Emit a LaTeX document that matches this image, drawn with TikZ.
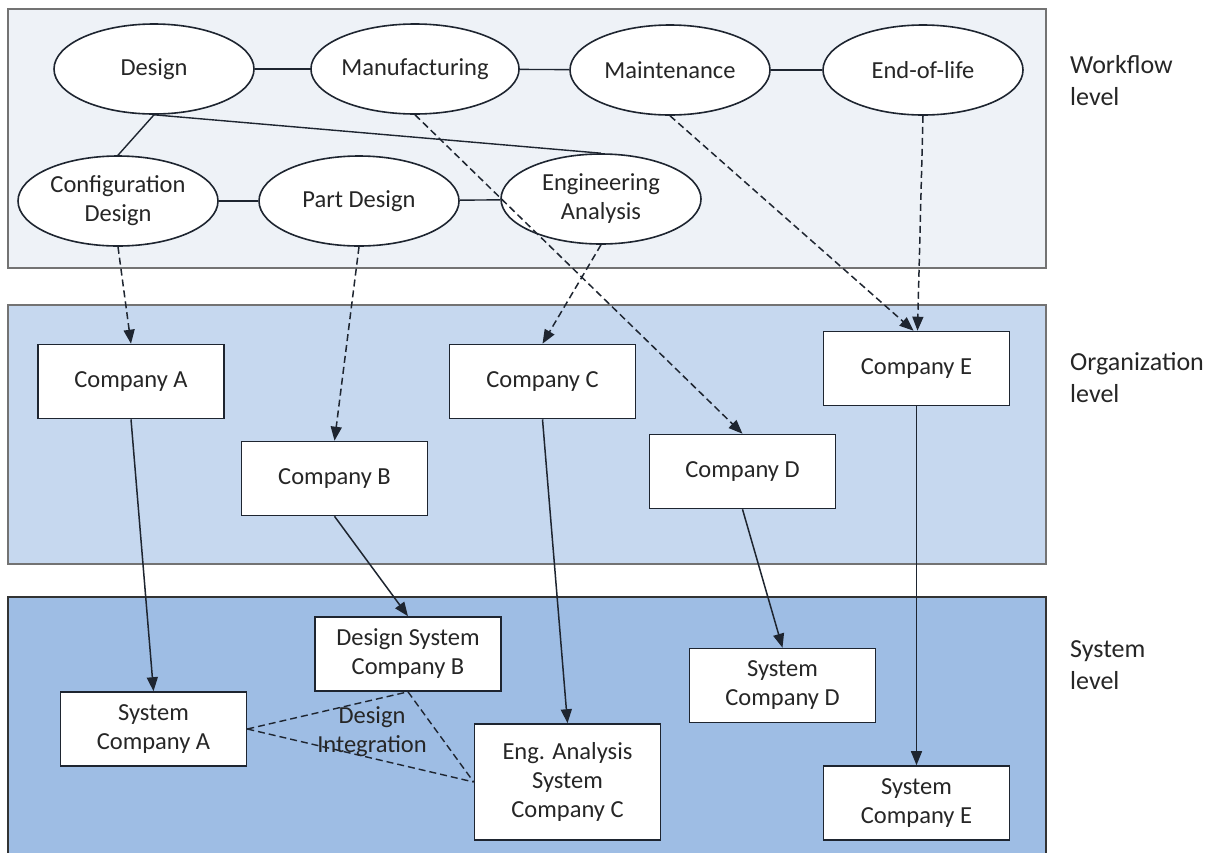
\documentclass[tikz,border=0pt]{standalone}
\usepackage{fontspec}
\setmainfont{Carlito}
\usetikzlibrary{arrows.meta,shapes.geometric}

\definecolor{txt}{HTML}{262626}
\definecolor{edge}{HTML}{1E2530}
\definecolor{wfFill}{HTML}{EEF2F7}
\definecolor{orgFill}{HTML}{C6D8EF}
\definecolor{sysFill}{HTML}{9EBDE4}

\tikzset{
  lbl/.style={text=txt, font=\fontsize{24.5}{29}\selectfont, align=center, inner sep=0pt},
  task/.style={lbl, ellipse, draw=edge, line width=1.6pt, fill=white,
    minimum width=200pt, minimum height=90pt},
  unit/.style={lbl, rectangle, draw=edge, line width=1.6pt, fill=white,
    minimum width=186pt, minimum height=74pt},
  panel/.style={draw=black!55, line width=1.2pt},
  sidelbl/.style={text=txt, font=\fontsize{26}{32}\selectfont, align=left, anchor=west, inner sep=0pt},
  link/.style={draw=edge, line width=1.4pt},
  flow/.style={draw=edge, line width=1.5pt, dash pattern=on 7pt off 4pt,
    -{Triangle[length=14pt,width=11pt]}},
  feed/.style={draw=edge, line width=1.5pt, -{Triangle[length=14pt,width=11pt]}},
  integ/.style={draw=edge, line width=1.4pt, dash pattern=on 7pt off 4pt},
}

\begin{document}
\begin{tikzpicture}[x=1pt,y=-1pt]
  \useasboundingbox (0,0) rectangle (1218,852);
  \fill[white] (0,0) rectangle (1218,852);

  % level panels
  \draw[panel, fill=wfFill]  (8,9) rectangle (1046,268);
  \draw[panel, fill=orgFill] (8,305) rectangle (1046,564);
  \draw[panel, fill=sysFill, draw=black!80] (8,597) rectangle (1046,870);

  % level captions
  \node[sidelbl] (capW) at (1070,81)  {Workflow\\level};
  \node[sidelbl] (capO) at (1070,378) {Organization\\level};
  \node[sidelbl] (capS) at (1070,665) {System\\level};

  % workflow activities
  \node[task] (des)   at (154,69)  {Design};
  \node[task] (manu)  at (415,69)  {Manufacturing};
  \node[task] (maint) at (670,70)  {Maintenance};
  \node[task] (eol)   at (923,70)  {End-of-life};
  \node[task] (cfg)   at (118,201) {Configuration\\Design};
  \node[task] (part)  at (359,201) {Part Design};
  \node[task] (eng)   at (601,199) {Engineering\\Analysis};

  \draw[link] (des) -- (manu);
  \draw[link] (manu) -- (maint);
  \draw[link] (maint) -- (eol);
  \draw[link] (cfg) -- (part);
  \draw[link] (part) -- (eng);
  \draw[link] (des.south) -- (cfg.north);
  \draw[link] (des.south) -- (eng.north);

  % organizations
  \node[unit] (compA) at (131,381.5) {Company A};
  \node[unit] (compB) at (334.5,478.5) {Company B};
  \node[unit] (compC) at (542.5,381.5) {Company C};
  \node[unit] (compD) at (742.5,471.5) {Company D};
  \node[unit] (compE) at (916.5,368.5) {Company E};

  % systems
  \node[unit] (sysA) at (153.5,729) {System\\Company A};
  \node[unit] (sysB) at (408,654) {Design System\\Company B};
  \node[unit, minimum height=116pt] (sysC) at (567.5,782) {Eng. Analysis\\System\\Company C};
  \node[unit] (sysD) at (782.5,685.5) {System\\Company D};
  \node[unit] (sysE) at (916.5,803) {System\\Company E};

  % activity assignment
  \draw[flow] (cfg.south) -- (compA.north);
  \draw[flow] (part.south) -- (compB.north);
  \draw[flow] (eng.south) -- (compC.north);
  \draw[flow] (manu.south) -- (compD.north);
  \draw[flow] (maint.south) -- ([xshift=-3pt]compE.north);
  \draw[flow] (eol.south) -- ([xshift=1pt]compE.north);

  % organization to system
  \draw[feed] (compA.south) -- (sysA.north);
  \draw[feed] (compB.south) -- (sysB.north);
  \draw[feed] (compC.south) -- (sysC.north);
  \draw[feed] (compD.south) -- (sysD.north);
  \draw[feed] (compE.south) -- (sysE.north);

  % design integration
  \draw[integ] (sysA.east) -- (sysB.south);
  \draw[integ] (sysA.east) -- (sysC.west);
  \draw[integ] (sysB.south) -- (sysC.west);
  \node[lbl] (integ) at (372,732) {Design\\Integration};
\end{tikzpicture}
\end{document}
